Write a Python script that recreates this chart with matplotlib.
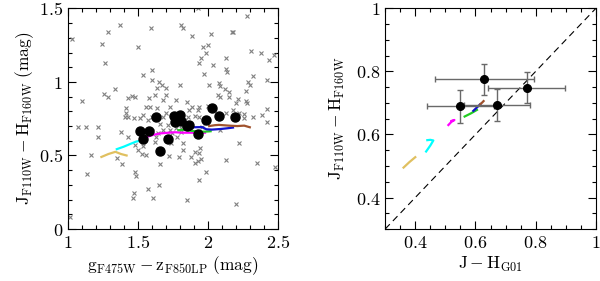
import numpy as np
import matplotlib
matplotlib.use("Agg")
import matplotlib.pyplot as plt
from matplotlib.ticker import MultipleLocator, FuncFormatter

plt.rcParams['mathtext.fontset'] = 'cm'
plt.rcParams['font.family'] = 'serif'
plt.rcParams['font.serif'] = ['DejaVu Serif']

# left panel: field sources (gray crosses)
field_g_z = [1.028, 1.373, 1.29, 1.247, 1.268, 1.503, 1.593, 1.807, 1.82, 1.89, 1.933, 2.02,
             2.0, 1.966, 2.17, 2.18, 2.28, 2.38, 2.44, 2.47, 2.31, 1.985, 1.955, 1.94, 2.13,
             2.13, 2.14, 2.04, 1.97, 1.54, 1.6, 1.6, 1.65, 1.7, 1.67, 1.64, 1.8, 1.7, 1.62,
             1.58, 1.48, 1.43, 1.34, 1.26, 1.29, 1.1, 1.59, 1.64, 1.68, 1.73, 1.77, 1.85,
             1.89, 1.93, 1.94, 2.01, 2.08, 2.09, 2.12, 2.15, 2.15, 2.07, 2.09, 2.215, 2.2,
             2.27, 2.29, 2.3, 2.32, 2.42, 2.27, 2.28, 2.22, 2.26, 2.32, 2.39, 2.42, 2.42,
             2.48, 2.35, 2.22, 2.13, 2.2, 1.99, 1.95, 1.93, 1.907, 1.94, 1.945, 1.94, 1.907,
             1.88, 1.85, 1.82, 1.81, 1.78, 1.72, 1.66, 1.65, 1.61, 1.575, 1.56, 1.53, 1.503,
             1.48, 1.485, 1.47, 1.467, 1.39, 1.35, 1.164, 1.135, 1.076, 1.128, 1.213, 1.218,
             1.017, 1.38, 1.43, 1.48, 1.54, 1.56, 1.6, 1.575, 1.54, 1.515, 1.47, 1.415, 1.41,
             1.43, 1.415, 1.46, 1.6, 1.66, 1.68, 1.645, 1.63, 1.625, 1.705, 1.68, 1.7, 1.715,
             1.75, 1.8, 1.835, 1.86, 1.866, 1.907, 1.94, 1.96, 2.0, 2.085, 2.18, 2.26, 2.13,
             1.745, 1.73, 1.776, 1.81, 1.82, 1.535, 1.734, 1.795, 1.58]
field_j_h = [1.29, 1.387, 1.34, 1.256, 1.131, 1.24, 1.369, 1.387, 1.364, 1.314, 1.5, 1.326,
             1.25, 1.24, 1.34, 1.34, 1.448, 1.2, 1.15, 1.18, 1.21, 1.2, 1.16, 1.127, 1.16,
             1.09, 1.07, 1.115, 1.054, 1.05, 1.08, 1.01, 1.0, 0.96, 0.977, 0.96, 0.98, 0.91,
             0.91, 0.89, 0.896, 0.89, 0.95, 0.916, 0.9, 0.873, 0.83, 0.826, 0.878, 0.83,
             0.878, 0.867, 0.833, 0.81, 0.833, 0.98, 0.99, 0.973, 0.95, 0.934, 0.9, 0.91,
             0.896, 0.882, 0.855, 0.94, 1.0, 0.98, 1.04, 1.01, 0.873, 0.855, 0.787, 0.783,
             0.765, 0.776, 0.817, 0.73, 0.425, 0.448, 0.584, 0.47, 0.17, 0.385, 0.475, 0.46,
             0.448, 0.335, 0.55, 0.516, 0.527, 0.493, 0.2, 0.538, 0.686, 0.629, 0.498, 0.443,
             0.3, 0.21, 0.27, 0.505, 0.511, 0.538, 0.39, 0.362, 0.244, 0.21, 0.443, 0.482,
             0.5, 0.376, 0.692, 0.692, 0.692, 0.624, 0.081, 0.658, 0.629, 0.572, 0.566, 0.833,
             0.765, 0.742, 0.776, 0.758, 0.758, 0.79, 0.76, 0.76, 0.82, 0.905, 0.667, 0.715,
             0.674, 0.656, 0.629, 0.595, 0.618, 0.76, 0.79, 0.708, 0.742, 0.742, 0.742, 0.765,
             0.81, 0.77, 0.76, 0.697, 0.837, 0.674, 0.81, 0.753, 0.787, 0.656, 0.674, 0.686,
             0.663, 0.584, 0.652, 0.584, 0.493, 0.652]

# left panel: clusters (black dots)
gc_g_z = [1.516, 1.582, 1.54, 1.63, 1.66, 1.713, 1.756, 1.803, 1.81, 1.763, 1.85, 1.867,
          1.93, 1.986, 2.03, 2.077, 2.196]
gc_j_h = [0.668, 0.668, 0.612, 0.76, 0.532, 0.612, 0.77, 0.777, 0.736, 0.725, 0.702, 0.709,
          0.646, 0.741, 0.823, 0.766, 0.76]

# model tracks in left panel (g-z, J-H)
track_colors = ['#e0c060', 'cyan', 'magenta', '#22cc22', '#1010cc', '#a0522d']
tracks_left = [
    ([1.24, 1.29, 1.34, 1.38, 1.42], [0.49, 0.51, 0.525, 0.51, 0.50]),
    ([1.35, 1.40, 1.45, 1.49, 1.52], [0.543, 0.56, 0.58, 0.595, 0.60]),
    ([1.56, 1.61, 1.66, 1.72, 1.77, 1.82, 1.88, 1.94, 1.98], [0.625, 0.64, 0.65, 0.655, 0.658, 0.655, 0.655, 0.653, 0.655]),
    ([1.79, 1.84, 1.88, 1.93, 1.98, 2.02], [0.672, 0.675, 0.668, 0.663, 0.662, 0.665]),
    ([1.90, 1.96, 1.99, 2.03, 2.09, 2.14, 2.18], [0.692, 0.693, 0.678, 0.676, 0.68, 0.685, 0.69]),
    ([2.01, 2.05, 2.08, 2.15, 2.21, 2.26, 2.30], [0.70, 0.706, 0.708, 0.703, 0.70, 0.703, 0.692]),
]

# right panel: clusters with errors
jh_g01 = [0.630, 0.771, 0.550, 0.671]
jh_g01_err = [0.165, 0.128, 0.11, 0.11]
jh_wfc3 = [0.775, 0.749, 0.689, 0.694]
jh_wfc3_err = [0.05, 0.05, 0.052, 0.05]

# model tracks in right panel (J-H G01, J-H WFC3)
tracks_right = [
    ([0.361, 0.38, 0.40], [0.495, 0.512, 0.528]),
    ([0.436, 0.45, 0.46, 0.45, 0.44], [0.546, 0.565, 0.581, 0.583, 0.582]),
    ([0.51, 0.52, 0.53, 0.52], [0.63, 0.64, 0.646, 0.643]),
    ([0.564, 0.585, 0.605], [0.657, 0.667, 0.678]),
    ([0.593, 0.605, 0.616], [0.675, 0.686, 0.696]),
    ([0.616, 0.622, 0.627], [0.696, 0.701, 0.706]),
]

fmt = FuncFormatter(lambda v, p: '$%g$' % round(v, 3))

fig = plt.figure(figsize=(6.0, 2.81), dpi=100)
ax1 = fig.add_axes([0.113, 0.185, 0.350, 0.785])
ax2 = fig.add_axes([0.642, 0.185, 0.351, 0.785])

ax1.plot(field_g_z, field_j_h, 'x', color='gray', ms=3, mew=0.8)
for (xs, ys), c in zip(tracks_left, track_colors):
    ax1.plot(xs, ys, '-', color=c, lw=1.6)
ax1.plot(gc_g_z, gc_j_h, 'o', color='black', ms=6.5)
ax1.set_xlim(1, 2.5)
ax1.set_ylim(0, 1.5)
ax1.xaxis.set_major_locator(MultipleLocator(0.5))
ax1.xaxis.set_minor_locator(MultipleLocator(0.1))
ax1.yaxis.set_major_locator(MultipleLocator(0.5))
ax1.yaxis.set_minor_locator(MultipleLocator(0.1))
ax1.set_xlabel(r'$\mathrm{g_{F475W}-z_{F850LP}\ (mag)}$', fontsize=12.5, labelpad=2)
ax1.set_ylabel(r'$\mathrm{J_{F110W}-H_{F160W}\ (mag)}$', fontsize=12.5, labelpad=2)

ax2.plot([0.3, 1], [0.3, 1], '--', color='black', lw=0.8, dashes=(6, 4))
for (xs, ys), c in zip(tracks_right, track_colors):
    ax2.plot(xs, ys, '-', color=c, lw=1.6)
ax2.errorbar(jh_g01, jh_wfc3, xerr=jh_g01_err, yerr=jh_wfc3_err, fmt='o', color='black',
             ms=5.5, ecolor='dimgray', elinewidth=1.0, capsize=2.5)
ax2.set_xlim(0.3, 1)
ax2.set_ylim(0.3, 1)
ax2.xaxis.set_major_locator(MultipleLocator(0.2))
ax2.xaxis.set_minor_locator(MultipleLocator(0.05))
ax2.yaxis.set_major_locator(MultipleLocator(0.2))
ax2.yaxis.set_minor_locator(MultipleLocator(0.05))
ax2.set_xlabel(r'$\mathrm{J-H_{G01}}$', fontsize=12.5, labelpad=2)
ax2.set_ylabel(r'$\mathrm{J_{F110W}-H_{F160W}}$', fontsize=12.5, labelpad=6)

for ax in (ax1, ax2):
    ax.xaxis.set_major_formatter(fmt)
    ax.yaxis.set_major_formatter(fmt)
    ax.tick_params(which='both', direction='in', top=True, right=True, labelsize=13)
    ax.tick_params(which='major', length=6, width=0.8)
    ax.tick_params(which='minor', length=3, width=0.8)

fig.savefig('out.png', dpi=100)
